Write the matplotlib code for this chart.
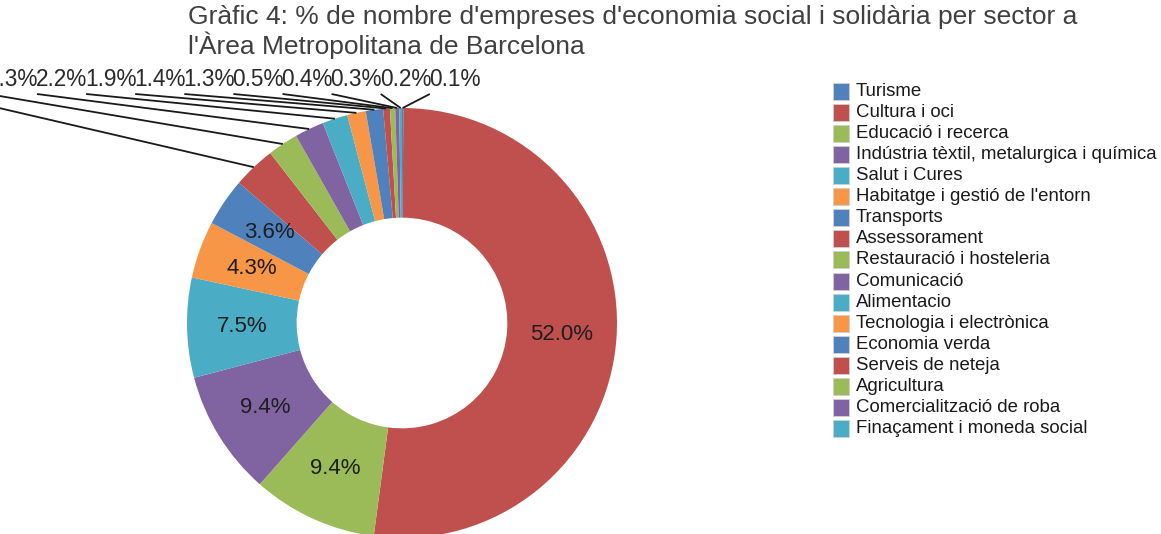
import matplotlib.pyplot as plt
from matplotlib.patches import Rectangle
import numpy as np

plt.rcParams['font.family'] = ['Liberation Sans', 'DejaVu Sans']

W, H = 1161, 534

sectors = ['Turisme', 'Cultura i oci', 'Educació i recerca',
           'Indústria tèxtil, metalurgica i química', 'Salut i Cures',
           "Habitatge i gestió de l'entorn", 'Transports', 'Assessorament',
           'Restauració i hosteleria', 'Comunicació', 'Alimentacio',
           'Tecnologia i electrònica', 'Economia verda', 'Serveis de neteja',
           'Agricultura', 'Comercialització de roba', 'Finaçament i moneda social']
pct = [0.1, 52.0, 9.4, 9.4, 7.5, 4.3, 3.6, 3.2, 2.3, 2.2, 1.9, 1.4, 1.3,
       0.5, 0.4, 0.3, 0.2]
palette = ['#4F81BD', '#C0504D', '#9BBB59', '#8064A2', '#4BACC6', '#F79646']
colors = [palette[i % 6] for i in range(len(pct))]

title = ("Gràfic 4: % de nombre d'empreses d'economia social i solidària per sector a\n"
         "l'Àrea Metropolitana de Barcelona")

# pie geometry in pixels
cx, cy, R = 402, 323, 215

def fx(px):
    return px / W

def fy(py):
    return 1 - py / H

fig = plt.figure(figsize=(W / 100, H / 100), dpi=100)
ax = fig.add_axes([fx(cx - R), fy(cy + R), 2 * R / W, 2 * R / H])
wedges, _ = ax.pie(pct, colors=colors, startangle=90, counterclock=False,
                   radius=1, wedgeprops=dict(width=0.51, linewidth=0))
ax.set_xlim(-1, 1)
ax.set_ylim(-1, 1)
ax.axis('off')

# labels inside the ring for the bigger slices
for w, v in zip(wedges, pct):
    if v >= 3.5:
        a = np.deg2rad((w.theta1 + w.theta2) / 2)
        ax.text(0.745 * np.cos(a), 0.745 * np.sin(a), f'{v:.1f}%',
                ha='center', va='center', fontsize=16, color='#1e1e1e')

# small slices: labels in a row above, with leader lines
order = [7, 8, 9, 10, 11, 12, 13, 14, 15, 16, 0]
for k, i in enumerate(order):
    left = 37 + 49.1 * (k - 2)
    w = wedges[i]
    a = np.deg2rad((w.theta1 + w.theta2) / 2)
    x0 = (left - cx) / R
    y0 = (cy - 94) / R
    ax.plot([x0, np.cos(a)], [y0, np.sin(a)], color='#1a1a1a', lw=1.3,
            clip_on=False, solid_capstyle='butt')
    ax.text(x0 - 1 / R, (cy - 80) / R, f'{pct[i]:.1f}%', ha='left', va='center',
            fontsize=16.3, color='#2a2a2a', clip_on=False)

# baseline of the last title line
fig.text(fx(188), fy(54), title, ha='left', va='baseline', fontsize=19,
         color='#404040', linespacing=1.12)

# legend
for i, (name, c) in enumerate(zip(sectors, colors)):
    y = 91.5 + 21.06 * i
    fig.add_artist(Rectangle((fx(833), fy(y + 8.5)), 16 / W, 17 / H,
                             transform=fig.transFigure, facecolor=c,
                             edgecolor='#d0d0d0', lw=0.6))
    fig.text(fx(856), fy(y), name, ha='left', va='center', fontsize=13.4,
             color='#1a1a1a')

fig.savefig('out.png', dpi=100, facecolor='white')
